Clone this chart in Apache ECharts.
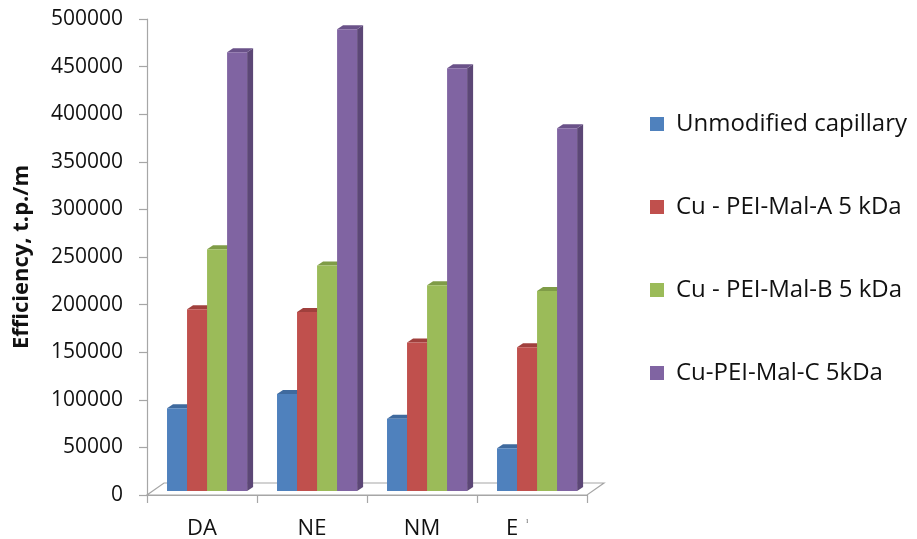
<!DOCTYPE html>
<html>
<head>
<meta charset="utf-8">
<script src="https://cdn.jsdelivr.net/npm/echarts@6/dist/echarts.min.js"></script>
<style>
  html, body { margin: 0; padding: 0; background: #fff; }
  #chart { width: 917px; height: 539px; }
</style>
</head>
<body>
<div id="chart"></div>
<script>
// Separation efficiency per analyte and capillary coating
const categories = ['DA', 'NE', 'NM', 'E'];
const seriesNames = [
  'Unmodified capillary',
  'Cu - PEI-Mal-A 5 kDa',
  'Cu - PEI-Mal-B 5 kDa',
  'Cu-PEI-Mal-C 5kDa'
];
const unmodified = [87000, 102000, 76000, 45000];
const malA = [191000, 188000, 156000, 151000];
const malB = [254000, 237000, 216000, 210000];
const malC = [461000, 485000, 444000, 381000];
const yTicks = { min: 0, max: 500000, step: 50000 };

// face colours: front, side, top
const palette = [
  { front: '#4F81BD', side: '#385D8A', top: '#3F6A9E' },
  { front: '#C0504D', side: '#8C3836', top: '#A0403D' },
  { front: '#9BBB59', side: '#71893F', top: '#7F9C47' },
  { front: '#8064A2', side: '#5C4776', top: '#6A5289' }
];
const seriesValues = [unmodified, malA, malB, malC];

const DEPTH_X = 6, DEPTH_Y = -4;   // bar depth (pseudo 3D)
const LIFT = 4;                    // bars stand slightly behind the floor front edge

function barRenderer(seriesIdx) {
  return function (params, api) {
    const i = api.value(0);
    const v = api.value(1);
    const base = api.coord([i, 0]);
    const topPt = api.coord([i, v]);
    const band = api.size([1, 0])[0];
    const w = band * 0.182;
    const x0 = base[0] - band / 2 + w + seriesIdx * w;
    const yb = base[1] - LIFT;
    const yt = topPt[1] - LIFT;
    const c = palette[seriesIdx];
    return {
      type: 'group',
      children: [
        { type: 'polygon', shape: { points: [[x0 + w, yb], [x0 + w + DEPTH_X, yb + DEPTH_Y], [x0 + w + DEPTH_X, yt + DEPTH_Y], [x0 + w, yt]] },
          style: { fill: c.side } },
        { type: 'polygon', shape: { points: [[x0, yt], [x0 + w, yt], [x0 + w + DEPTH_X, yt + DEPTH_Y], [x0 + DEPTH_X, yt + DEPTH_Y]] },
          style: { fill: c.top } },
        { type: 'rect', shape: { x: x0, y: yt, width: w, height: yb - yt },
          style: { fill: c.front } }
      ]
    };
  };
}

// floor plane under the bars
function floorRenderer(params, api) {
  const cs = params.coordSys;
  const yf = api.coord([0, 0])[1];
  const dx = 17, dy = -12;
  return {
    type: 'polygon',
    shape: { points: [[cs.x, yf], [cs.x + cs.width, yf], [cs.x + cs.width + dx, yf + dy], [cs.x + dx, yf + dy]] },
    style: { fill: '#ffffff', stroke: '#A6A6A6', lineWidth: 1.2 }
  };
}

const series = [{
  type: 'custom',
  name: 'floor',
  renderItem: floorRenderer,
  data: [[0, 0]],
  silent: true,
  z: 1,
  encode: { x: 0, y: 1 }
}];
seriesValues.forEach(function (vals, s) {
  series.push({
    type: 'custom',
    name: seriesNames[s],
    renderItem: barRenderer(s),
    itemStyle: { color: palette[s].front },
    data: vals.map(function (v, i) { return [i, v]; }),
    encode: { x: 0, y: 1 },
    z: 2 + s
  });
});

const chart = echarts.init(document.getElementById('chart'));
chart.setOption({
  animation: false,
  backgroundColor: '#ffffff',
  grid: { left: 147, right: 330, top: 19, bottom: 44, containLabel: false, outerBoundsMode: 'none' },
  legend: {
    data: seriesNames,
    orient: 'vertical',
    left: 645,
    top: 106,
    icon: 'rect',
    itemWidth: 14,
    itemHeight: 14,
    itemGap: 57,
    textStyle: { fontFamily: 'Open Sans', fontSize: 24, color: '#111', lineHeight: 26, padding: [0, 0, 0, 7] }
  },
  xAxis: {
    type: 'category',
    data: categories,
    axisLine: { show: true, lineStyle: { color: '#A6A6A6', width: 1.2 } },
    axisTick: { show: true, length: 8, lineStyle: { color: '#A6A6A6', width: 1.2 } },
    axisLabel: {
      interval: 0,
      margin: 19,
      fontFamily: 'Open Sans',
      fontSize: 22,
      lineHeight: 30,
      color: '#111',
      formatter: function (val) {
        return val === 'E' ? '{e|E}{m|ˡ}' : val;
      },
      rich: {
        e: { fontFamily: 'Open Sans', fontSize: 22, lineHeight: 30, color: '#111' },
        m: { fontFamily: 'Open Sans', fontSize: 11, lineHeight: 30, color: '#333', padding: [0, 30, 12, 8] }
      }
    },
    splitLine: { show: false }
  },
  yAxis: {
    type: 'value',
    min: yTicks.min,
    max: yTicks.max,
    interval: yTicks.step,
    name: 'Efficiency, t.p./m',
    nameLocation: 'middle',
    nameRotate: 90,
    nameGap: 114,
    nameTextStyle: { fontFamily: 'Open Sans', fontSize: 22, fontWeight: 'bold', color: '#111' },
    axisLine: { show: true, lineStyle: { color: '#A6A6A6', width: 1.2 } },
    axisTick: { show: true, length: 8, lineStyle: { color: '#A6A6A6', width: 1.2 } },
    axisLabel: {
      margin: 24, fontFamily: 'Open Sans', fontSize: 21, color: '#111',
      formatter: function (v) { return String(v); }
    },
    splitLine: { show: false }
  },
  series: series
});
</script>
</body>
</html>
